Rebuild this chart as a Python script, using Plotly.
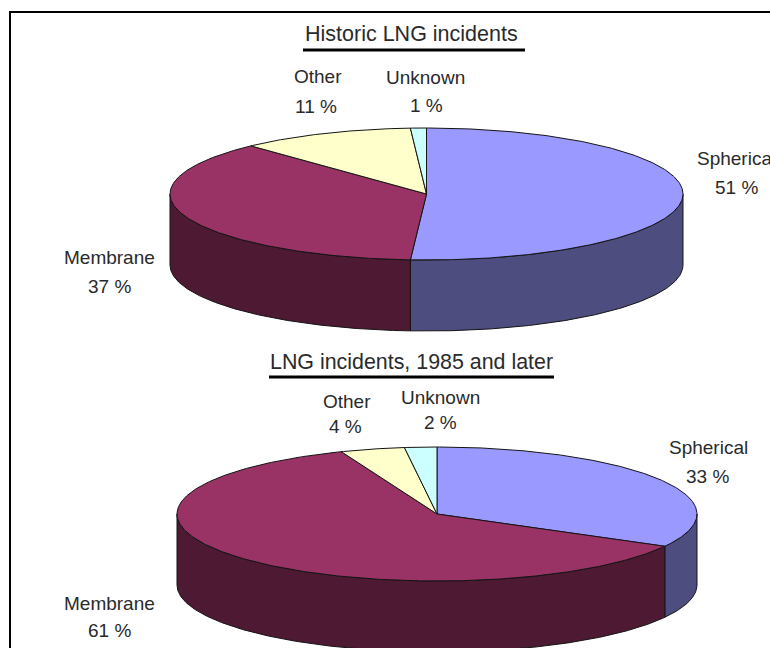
import numpy as np
import plotly.graph_objects as go

# Incident shares by tank type
categories = ["Spherical", "Membrane", "Other", "Unknown"]
historic_values = [51, 37, 11, 1]
recent_values = [33, 61, 4, 2]
historic_title = "Historic LNG incidents"
recent_title = "LNG incidents, 1985 and later"

TOP_COLORS = ["#9999FF", "#993366", "#FFFFCC", "#CCFFFF"]
SIDE_COLORS = ["#4D4D80", "#4D1933", "#808066", "#668080"]
EDGE = "#141414"
TEXT = "#2a2a2a"
LABEL_FONT = "Liberation Sans"


def rim(cx, cy, rx, ry, a0, a1, drop=0.0):
    """Points on the ellipse; angles run clockwise from twelve o'clock, in degrees."""
    n = max(2, int(abs(a1 - a0) * 2) + 1)
    t = np.radians(np.linspace(a0, a1, n))
    return cx + rx * np.sin(t), cy - ry * np.cos(t) + drop


def polygon(fig, x, y, color):
    fig.add_trace(go.Scatter(
        x=list(x), y=list(y), mode="lines", fill="toself", fillcolor=color,
        line=dict(color=EDGE, width=1), hoverinfo="skip", showlegend=False,
    ))


def add_pie(fig, values, cx, cy, rx, ry, depth):
    total = sum(values)
    edges = np.concatenate([[0.0], np.cumsum(values)]) * 360.0 / total

    # Outer wall: only the part of each slice on the front half is visible
    for i in range(len(values)):
        a0, a1 = max(edges[i], 90.0), min(edges[i + 1], 270.0)
        if a1 <= a0:
            continue
        tx, ty = rim(cx, cy, rx, ry, a0, a1)
        bx, by = rim(cx, cy, rx, ry, a1, a0, depth)
        polygon(fig, np.r_[tx, bx, tx[0]], np.r_[ty, by, ty[0]], SIDE_COLORS[i])

    # Top face
    for i in range(len(values)):
        tx, ty = rim(cx, cy, rx, ry, edges[i], edges[i + 1])
        polygon(fig, np.r_[cx, tx, cx], np.r_[cy, ty, cy], TOP_COLORS[i])


def add_label(fig, text, x, y, size=19):
    fig.add_annotation(
        x=x, y=y, xref="x", yref="y", text=text, showarrow=False,
        xanchor="center", yanchor="middle",
        font=dict(family=LABEL_FONT, size=size, color=TEXT),
    )


fig = go.Figure()

add_pie(fig, historic_values, 426.5, 194, 256.5, 66, 71)
add_pie(fig, recent_values, 437, 514, 260, 67, 71)

# Label anchor points, in the same order as the categories
historic_name_pos = [(736, 158), (109, 257), (318, 76), (425, 77)]
historic_value_pos = [(736, 187), (109, 286), (316, 106), (426, 105)]
recent_name_pos = [(708, 447), (109, 603), (347, 401), (440, 397)]
recent_value_pos = [(707, 476), (109, 630), (345, 426), (440, 422)]

for vals, names, nums in [
    (historic_values, historic_name_pos, historic_value_pos),
    (recent_values, recent_name_pos, recent_value_pos),
]:
    for cat, val, np_, vp in zip(categories, vals, names, nums):
        add_label(fig, cat, *np_)
        add_label(fig, f"{val} %", *vp)

add_label(fig, historic_title, 411.5, 34, 21.5)
add_label(fig, recent_title, 411, 362, 21.4)

shapes = [
    # Underlines beneath the two headings
    dict(type="line", x0=303, x1=525, y0=50, y1=50, line=dict(color="#000", width=3)),
    dict(type="line", x0=269, x1=554, y0=377, y1=377, line=dict(color="#000", width=3)),
    # Frame, open on the right and at the bottom
    dict(type="line", x0=10, x1=770, y0=12, y1=12, line=dict(color="#000", width=2)),
    dict(type="line", x0=10, x1=10, y0=11, y1=648, line=dict(color="#000", width=2)),
]

fig.update_layout(
    width=770, height=648, margin=dict(l=0, r=0, t=0, b=0),
    paper_bgcolor="white", plot_bgcolor="white", showlegend=False,
    xaxis=dict(range=[0, 770], visible=False, fixedrange=True),
    yaxis=dict(range=[648, 0], visible=False, fixedrange=True),
    shapes=shapes,
)

fig.write_html("out.html", config=dict(displayModeBar=False))
